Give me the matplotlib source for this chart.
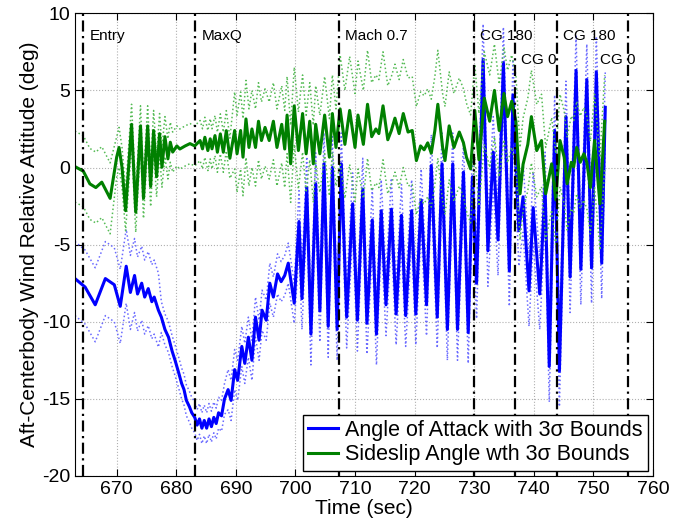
import numpy as np
import matplotlib
matplotlib.use("Agg")
import matplotlib.pyplot as plt

plt.rcParams['font.family'] = ['Liberation Sans', 'DejaVu Sans']
plt.rcParams['axes.unicode_minus'] = False

# angle of attack, peaks/troughs (sec, deg)
aoa_t = [663.0, 664.7, 666.4, 668.1, 669.6, 670.6, 671.6, 672.3, 673.0, 673.5,
         674.2, 674.7, 675.3, 675.9, 676.3, 677.0, 677.5, 678.1, 678.7, 679.3,
         679.8, 680.4, 680.9, 681.3, 681.7, 682.2, 682.6, 683.1, 683.5, 683.9,
         684.3, 684.7, 685.1, 685.5, 685.9, 686.3, 686.7, 687.1, 687.6, 688.1,
         688.7, 689.2, 689.8, 690.3, 691.0, 691.5, 692.1, 692.7, 693.3, 693.9,
         694.4, 695.1, 695.7, 696.3, 697.0, 697.6, 698.2, 698.8, 699.8, 700.6,
         701.1, 701.9, 702.6, 703.4, 704.1, 704.8, 705.5, 706.2, 707.0, 707.7,
         708.6, 709.6, 710.4, 711.3, 712.0, 712.9, 713.6, 714.4, 715.2, 716.1,
         716.9, 717.8, 718.5, 719.5, 720.2, 721.1, 722.0, 722.8, 723.8, 724.6,
         725.5, 726.4, 727.2, 728.2, 729.0, 729.7, 730.4, 731.5, 732.3, 733.2,
         734.0, 734.9, 735.9, 736.5, 737.5, 738.2, 739.2, 739.9, 741.0, 741.9,
         742.6, 743.5, 744.3, 745.4, 746.1, 747.1, 747.9, 748.9, 749.7, 750.5,
         751.4, 752.0]
aoa_v = [-7.2, -7.75, -8.9, -7.2, -7.6, -9.0, -6.4, -8.1, -7.0, -8.2,
         -7.5, -8.4, -7.85, -8.7, -8.4, -9.25, -9.7, -10.5, -11.0, -11.9,
         -12.5, -13.3, -14.0, -14.4, -15.1, -15.5, -15.9, -16.2, -16.7, -16.3,
         -16.9, -16.4, -16.9, -16.3, -16.8, -16.2, -16.6, -15.9, -16.1, -15.0,
         -14.4, -15.1, -13.1, -13.8, -11.6, -12.7, -11.0, -12.5, -9.7, -11.2,
         -9.25, -9.9, -7.5, -8.4, -6.9, -7.4, -7.0, -6.2, -8.8, -3.5,
         -8.5, -1.3, -10.8, -1.05, -9.3, 0.24, -10.3, 0.0, -10.5, 0.24,
         -9.7, -2.35, -9.9, -1.4, -10.1, -3.4, -10.8, -2.8, -8.9, -2.7,
         -9.5, -3.1, -9.6, -2.8, -9.5, -2.1, -8.9, 0.13, -9.7, 0.24,
         -10.5, 0.24, -10.5, -0.3, -10.7, -0.6, -7.5, 7.0, -5.4, 1.0,
         -4.7, 6.8, -6.7, 4.7, -4.1, -1.9, -8.0, -2.6, -8.2, -1.3,
         -12.9, 2.4, -13.2, 3.3, -7.1, 6.3, -6.6, 5.7, -6.5, 6.2,
         -6.2, 3.9]
# 3-sigma half width, one value per time segment
aoa_sig_edges = [677.3, 688.2, 700.3, 729.9]
aoa_sig_vals = [2.4, 1.0, 1.3, 2.0, 2.3]

# sideslip angle
beta_t = [663.0, 664.4, 665.5, 666.5, 667.5, 668.9, 670.0, 670.4, 670.9, 671.5,
          672.5, 673.2, 674.0, 674.5, 675.2, 675.7, 676.2, 676.7, 677.2, 677.6,
          678.1, 678.6, 679.0, 679.4, 680.1, 680.6, 681.5, 682.3, 683.1, 684.0,
          684.4, 684.8, 685.3, 685.7, 686.0, 686.5, 686.9, 687.4, 687.9, 688.4,
          689.0, 689.8, 690.2, 690.8, 691.2, 691.7, 692.2, 692.7, 693.3, 693.8,
          694.3, 694.9, 695.6, 696.3, 696.9, 697.7, 698.2, 698.6, 699.2, 699.8,
          700.5, 701.2, 701.8, 702.4, 703.0, 703.4, 704.1, 704.9, 705.7, 706.2,
          706.8, 707.5, 708.3, 709.1, 710.0, 710.5, 711.4, 712.1, 712.8, 713.5,
          714.0, 714.7, 715.5, 716.1, 716.7, 717.4, 718.1, 718.9, 719.6, 720.3,
          721.0, 721.6, 722.2, 722.8, 723.4, 723.9, 724.7, 725.1, 725.8, 726.6,
          727.5, 728.2, 728.7, 729.4, 730.1, 730.8, 731.7, 732.6, 733.4, 734.2,
          735.0, 735.6, 736.3, 737.0, 737.7, 738.2, 739.0, 739.6, 740.5, 741.3,
          742.0, 743.0, 743.7, 744.4, 745.1, 745.6, 746.3, 746.7, 747.2, 747.8,
          748.4, 748.9, 749.5, 750.2, 751.1, 751.9]
beta_v = [0.06, -0.24, -1.06, -1.3, -0.95, -2.0, 0.67, 1.3, 0.0, -2.8,
          2.8, -2.9, 2.7, -2.0, 2.7, -1.23, 2.4, -0.6, 2.2, 0.02,
          2.0, 0.56, 1.64, 1.0, 1.4, 1.2, 1.4, 1.55, 1.4, 1.75,
          1.21, 1.96, 1.1, 1.86, 1.21, 2.07, 0.99, 2.18, 0.99, 2.39,
          0.6, 2.4, 0.89, 2.4, 0.67, 3.15, 1.3, 2.5, 1.3, 3.0,
          1.75, 2.6, 1.75, 3.0, 1.3, 2.8, 1.2, 3.4, 0.24, 4.0,
          1.1, 3.5, 0.89, 3.0, 0.24, 2.8, 0.89, 3.4, 0.67, 3.5,
          1.3, 3.8, 1.5, 3.7, 1.3, 3.4, 1.5, 4.1, 2.0, 2.5,
          2.2, 4.0, 1.8, 2.4, 3.2, 2.2, 3.5, 2.3, 2.4, 0.45,
          1.4, 1.15, 1.6, 0.93, 2.4, 4.1, 1.3, 0.45, 2.7, 1.3,
          2.3, 1.6, 0.67, -0.09, 3.7, 0.5, 4.5, 3.0, 5.0, 2.4,
          4.8, 3.3, 4.3, 3.0, -1.7, 0.2, 1.5, 3.3, 1.1, 1.75,
          -1.7, 0.24, -2.1, 1.75, 0.67, -1.05, 0.34, 0.05, 1.3, 0.34,
          0.89, 0.34, -1.3, 1.75, -2.35, 3.0]
beta_sig_edges = [669.8, 689.5, 707.3, 729.8]
beta_sig_vals = [2.3, 1.3, 2.5, 3.5, 3.0]

# flight events
event_t = [664.3, 683.2, 707.3, 729.9, 736.8, 743.9, 755.8]
event_lbl = ['Entry', 'MaxQ', 'Mach 0.7', 'CG 180', 'CG 0', 'CG 180', 'CG 0']
lbl_x = [665.5, 684.3, 708.4, 731.0, 737.8, 744.9, 751.1]
lbl_y = [8.5, 8.5, 8.5, 8.5, 7.0, 8.5, 7.0]


def bounds(t, v, edges, vals):
    t = np.array(t)
    v = np.array(v)
    sig = np.array(vals)[np.searchsorted(edges, t)]
    return t, v, v + sig, v - sig


fig = plt.figure(figsize=(6.84, 5.29), dpi=100)
ax = fig.add_axes([0.1096, 0.1002, 0.845, 0.8747])

t, v, hi, lo = bounds(aoa_t, aoa_v, aoa_sig_edges, aoa_sig_vals)
ax.plot(t, hi, ':', color='#6a6aff', lw=1.1)
ax.plot(t, lo, ':', color='#6a6aff', lw=1.1)
ax.plot(t, v, '-', color='#0000ff', lw=2.2, label='Angle of Attack with 3σ Bounds')

t, v, hi, lo = bounds(beta_t, beta_v, beta_sig_edges, beta_sig_vals)
ax.plot(t, hi, ':', color='#55bb55', lw=1.1)
ax.plot(t, lo, ':', color='#55bb55', lw=1.1)
ax.plot(t, v, '-', color='#008000', lw=2.2, label='Sideslip Angle wth 3σ Bounds')

for i in range(len(event_t)):
    ax.axvline(event_t[i], color='black', ls=(0, (5, 2, 1, 2)), lw=1.6)
    ax.text(lbl_x[i], lbl_y[i], event_lbl[i], fontsize=11, va='center', ha='left')

ax.set_xlim(663, 760)
ax.set_ylim(-20, 10)
ax.set_xticks(np.arange(670, 761, 10))
ax.set_yticks(np.arange(-20, 11, 5))
ax.grid(True, ls=':', color='#b0b0b0', lw=0.8)
ax.tick_params(direction='in', top=True, right=True, labelsize=14, length=5)
ax.set_xlabel('Time (sec)', fontsize=15, labelpad=1)
ax.set_ylabel('Aft-Centerbody Wind Relative Attitude (deg)', fontsize=15, labelpad=2)

leg = ax.legend(loc='lower right', fontsize=15.5, handlelength=1.4, fancybox=False,
                framealpha=1, edgecolor='black', borderpad=0.25, labelspacing=0.15,
                handletextpad=0.3, borderaxespad=0.25)
leg.get_frame().set_linewidth(1.0)

fig.savefig('out.png', dpi=100)
